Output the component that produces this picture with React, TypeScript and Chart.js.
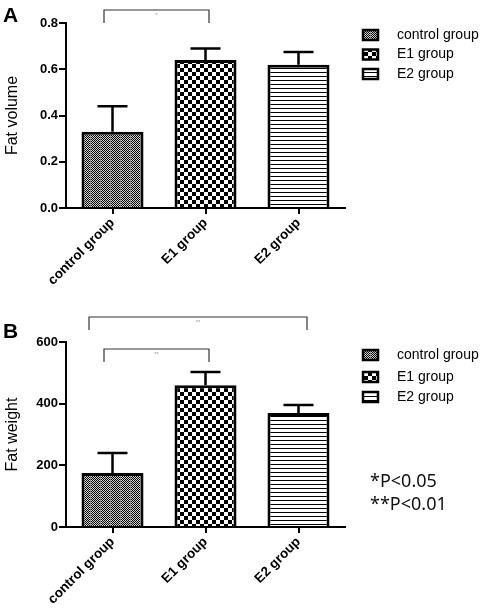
import React, { useEffect, useRef } from 'react';
import { Chart, registerables } from 'chart.js';

Chart.register(...registerables);

// ---------- data ----------
const categories = ['control group', 'E1 group', 'E2 group'];
const volumeMeans = [0.33, 0.64, 0.62];
const volumeErrors = [0.11, 0.05, 0.055];
const weightMeans = [175, 460, 370];
const weightErrors = [65, 43, 26];
const volumeTicks = ['0.0', '0.2', '0.4', '0.6', '0.8'];
const weightTicks = ['0', '200', '400', '600'];
const volumeBrackets = [{ from: 0, to: 1, label: '*' }];
const weightBrackets = [
  { from: 0, to: 2, label: '**' },
  { from: 0, to: 1, label: '**' },
];
const pNotes = ['*P<0.05', '**P<0.01'];

// ---------- style ----------
const FONT = "'Liberation Sans', Arial, Helvetica, sans-serif";
const W = 484;
const patternKinds = ['fine', 'coarse', 'lines'];

function makePattern(kind: string): CanvasPattern | string {
  const c = document.createElement('canvas');
  const ctx = c.getContext('2d');
  if (!ctx) return '#888';
  if (kind === 'fine') {
    c.width = 10; c.height = 10;
    ctx.fillStyle = '#d0d0d0'; ctx.fillRect(0, 0, 10, 10);
    ctx.fillStyle = '#000';
    for (let yy = 0; yy < 10; yy++) {
      for (let xx = 0; xx < 10; xx++) {
        if ((xx + yy) % 2 === 0) ctx.fillRect(xx, yy, 1, 1);
      }
    }
    ctx.fillStyle = '#888';
    ctx.fillRect(0, 0, 1, 10);
  } else if (kind === 'coarse') {
    c.width = 8; c.height = 8;
    ctx.fillStyle = '#fff'; ctx.fillRect(0, 0, 8, 8);
    ctx.fillStyle = '#000'; ctx.fillRect(0, 0, 4, 4); ctx.fillRect(4, 4, 4, 4);
  } else {
    c.width = 4; c.height = 4;
    ctx.fillStyle = '#fff'; ctx.fillRect(0, 0, 4, 4);
    ctx.fillStyle = '#000'; ctx.fillRect(0, 0, 4, 1);
  }
  return ctx.createPattern(c, 'repeat') || '#888';
}

type BracketStyle = { dxFrom: number; dxTo: number; top: number; bottom: number };

function buildChart(
  canvas: HTMLCanvasElement,
  means: number[],
  errors: number[],
  tickLabels: string[],
  max: number,
  step: number,
  title: string,
  brackets: { from: number; to: number; label: string }[],
  bracketStyles: BracketStyle[],
  legendYs: number[],
  areaTop: number,
  areaBottom: number,
  canvasH: number
) {
  const patterns = patternKinds.map(makePattern);

  const errorBarPlugin = {
    id: 'errorBars',
    afterDatasetsDraw(chart: any) {
      const meta = chart.getDatasetMeta(0);
      const y = chart.scales.y;
      const ctx = chart.ctx;
      ctx.save();
      ctx.strokeStyle = '#000';
      ctx.lineWidth = 2.5;
      errors.forEach((e, i) => {
        const bar = meta.data[i];
        const top = y.getPixelForValue(means[i] + e);
        ctx.beginPath();
        ctx.moveTo(bar.x, bar.y);
        ctx.lineTo(bar.x, top);
        ctx.moveTo(bar.x - 15, top);
        ctx.lineTo(bar.x + 15, top);
        ctx.stroke();
      });
      ctx.restore();
    },
  };

  const extrasPlugin = {
    id: 'extras',
    afterDraw(chart: any) {
      const ctx = chart.ctx;
      const x = chart.scales.x;
      const area = chart.chartArea;
      ctx.save();
      // significance brackets
      brackets.forEach((b, i) => {
        const s = bracketStyles[i];
        const x1 = x.getPixelForValue(b.from) + s.dxFrom;
        const x2 = x.getPixelForValue(b.to) + s.dxTo;
        const yt = area.top + s.top;
        const yb = area.top + s.bottom;
        ctx.strokeStyle = '#333';
        ctx.lineWidth = 1.2;
        ctx.beginPath();
        ctx.moveTo(x1, yb);
        ctx.lineTo(x1, yt);
        ctx.lineTo(x2, yt);
        ctx.lineTo(x2, yb);
        ctx.stroke();
        ctx.fillStyle = '#999';
        ctx.font = `6px ${FONT}`;
        ctx.textAlign = 'center';
        ctx.textBaseline = 'middle';
        ctx.fillText(b.label, (x1 + x2) / 2, yt + 5);
      });
      // legend
      categories.forEach((label, i) => {
        const cy = legendYs[i];
        ctx.fillStyle = patterns[i];
        ctx.fillRect(363, cy - 5, 15, 10);
        ctx.strokeStyle = '#000';
        ctx.lineWidth = 2.5;
        ctx.strokeRect(363, cy - 5, 15, 10);
        ctx.fillStyle = '#000';
        ctx.font = `14px ${FONT}`;
        ctx.textAlign = 'left';
        ctx.textBaseline = 'middle';
        ctx.fillText(label, 397, cy);
      });
      ctx.restore();
    },
  };

  return new Chart(canvas, {
    type: 'bar',
    data: {
      labels: categories,
      datasets: [
        {
          data: means,
          backgroundColor: patterns as any,
          borderColor: '#000',
          borderWidth: 3,
          barPercentage: 0.667,
          categoryPercentage: 1,
        },
      ],
    },
    options: {
      animation: false,
      responsive: false,
      layout: { padding: { left: 3, top: areaTop, right: W - 345, bottom: 0 } },
      plugins: { legend: { display: false }, tooltip: { enabled: false } },
      scales: {
        x: {
          type: 'category',
          grid: {
            display: true,
            drawOnChartArea: false,
            drawTicks: true,
            tickLength: 6,
            color: '#000',
            lineWidth: 2,
            offset: false,
          },
          border: { display: true, color: '#000', width: 2 },
          ticks: {
            color: '#000',
            font: { family: FONT, size: 13.5, weight: 'bold' },
            minRotation: 45,
            maxRotation: 45,
            padding: 1,
            autoSkip: false,
          },
          afterFit: (s: any) => {
            s.height = canvasH - areaBottom;
          },
        },
        y: {
          min: 0,
          max: max,
          ticks: {
            stepSize: step,
            color: '#000',
            font: { family: FONT, size: 13, weight: 'bold' },
            padding: 1,
            callback: (_v: any, i: number) => tickLabels[i],
          },
          grid: {
            display: true,
            drawOnChartArea: false,
            drawTicks: true,
            tickLength: 7,
            color: '#000',
            lineWidth: 2,
          },
          border: { display: true, color: '#000', width: 2 },
          title: {
            display: true,
            text: title,
            color: '#000',
            font: { family: FONT, size: 16 },
            padding: 0,
          },
          afterFit: (s: any) => {
            s.width = 63;
          },
        },
      },
    } as any,
    plugins: [errorBarPlugin, extrasPlugin],
  });
}

export default function App() {
  const refA = useRef<HTMLCanvasElement>(null);
  const refB = useRef<HTMLCanvasElement>(null);

  useEffect(() => {
    const a = buildChart(
      refA.current!,
      volumeMeans,
      volumeErrors,
      volumeTicks,
      0.8,
      0.2,
      'Fat volume',
      volumeBrackets,
      [{ dxFrom: -8.5, dxTo: 3.5, top: -13, bottom: 0 }],
      [35, 54.5, 74],
      23,
      208,
      300
    );
    const b = buildChart(
      refB.current!,
      weightMeans,
      weightErrors,
      weightTicks,
      600,
      200,
      'Fat weight',
      weightBrackets,
      [
        { dxFrom: -23.5, dxTo: 8.5, top: -25, bottom: -12 },
        { dxFrom: -8.5, dxTo: 3.5, top: 7, bottom: 20 },
      ],
      [55, 77, 97],
      42,
      227,
      310
    );
    return () => {
      a.destroy();
      b.destroy();
    };
  }, []);

  const panelLabel: React.CSSProperties = {
    position: 'absolute',
    left: 3,
    fontFamily: FONT,
    fontWeight: 'bold',
    fontSize: 21,
    lineHeight: '21px',
    color: '#000',
  };

  return (
    <div style={{ position: 'absolute', left: 0, top: 0, width: W, height: 610, background: '#fff', overflow: 'hidden' }}>
      <canvas ref={refA} width={W} height={300} style={{ position: 'absolute', left: 0, top: 0, width: W, height: 300 }} />
      <canvas ref={refB} width={W} height={310} style={{ position: 'absolute', left: 0, top: 300, width: W, height: 310 }} />
      <div style={{ ...panelLabel, top: 4 }}>A</div>
      <div style={{ ...panelLabel, top: 320 }}>B</div>
      <div
        style={{
          position: 'absolute',
          left: 370,
          top: 469,
          fontFamily: "'Noto Sans', sans-serif",
          fontSize: 18,
          lineHeight: '23px',
          color: '#111',
        }}
      >
        {pNotes.map((t) => (
          <div key={t}>{t}</div>
        ))}
      </div>
    </div>
  );
}
